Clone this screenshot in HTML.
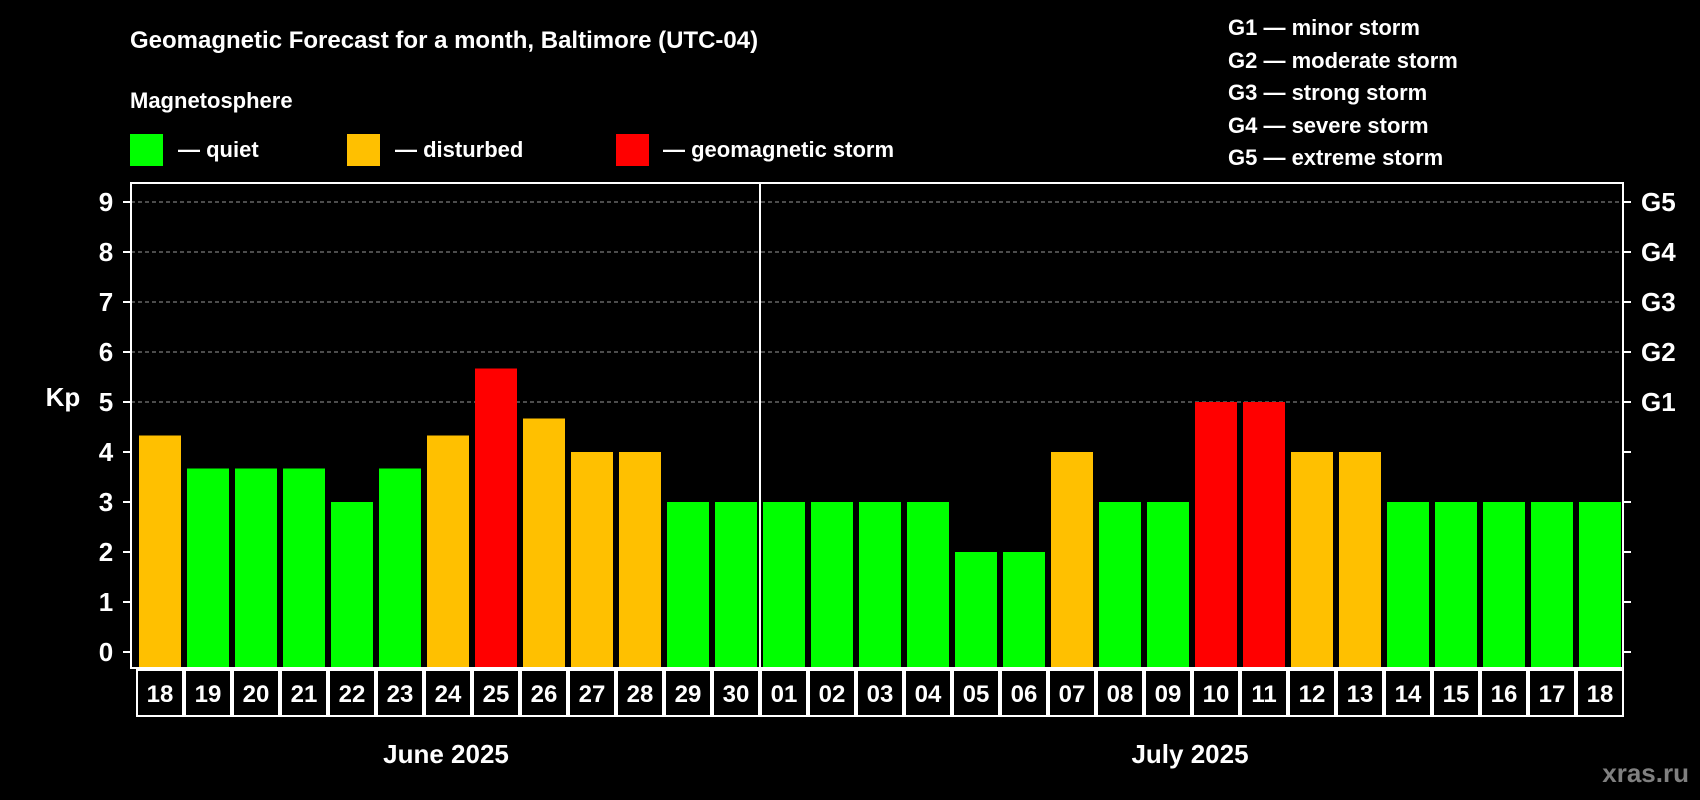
<!DOCTYPE html>
<html><head><meta charset="utf-8"><style>
html,body{margin:0;padding:0;background:#000;}
svg{display:block;font-family:"Liberation Sans",Arial,sans-serif;font-weight:bold;}
</style></head><body>
<svg id="c" width="1700" height="800" viewBox="0 0 1700 800">
<rect width="1700" height="800" fill="#000"/>
<text x="130" y="48" fill="#fff" font-size="24">Geomagnetic Forecast for a month, Baltimore (UTC-04)</text>
<text x="130" y="108" fill="#fff" font-size="22">Magnetosphere</text>
<g><rect x="130" y="134" width="33" height="32" fill="#00ff00"/><text x="178" y="157" fill="#fff" font-size="22">— quiet</text></g>
<g><rect x="347" y="134" width="33" height="32" fill="#ffc000"/><text x="395" y="157" fill="#fff" font-size="22">— disturbed</text></g>
<g><rect x="616" y="134" width="33" height="32" fill="#ff0000"/><text x="663" y="157" fill="#fff" font-size="22">— geomagnetic storm</text></g>
<g fill="#fff" font-size="22">
<text x="1228" y="35">G1 — minor storm</text>
<text x="1228" y="68">G2 — moderate storm</text>
<text x="1228" y="100">G3 — strong storm</text>
<text x="1228" y="133">G4 — severe storm</text>
<text x="1228" y="165">G5 — extreme storm</text>
</g>
<text x="63" y="406" fill="#fff" font-size="26" text-anchor="middle">Kp</text>
<g id="grid"></g>
<g id="bars"></g>
<rect x="131" y="183" width="1492" height="485" fill="none" stroke="#fff" stroke-width="2"/>
<g id="axes"></g>
<g id="xlabels"></g>
<text x="446" y="763" fill="#fff" font-size="26" text-anchor="middle">June 2025</text>
<text x="1190" y="763" fill="#fff" font-size="26" text-anchor="middle">July 2025</text>
<text x="1689" y="782" fill="#808080" font-size="26" text-anchor="end">xras.ru</text>
</svg>
<script>
const days = ["18","19","20","21","22","23","24","25","26","27","28","29","30","01","02","03","04","05","06","07","08","09","10","11","12","13","14","15","16","17","18"];
const kpValues = [4.33,3.67,3.67,3.67,3,3.67,4.33,5.67,4.67,4,4,3,3,3,3,3,3,2,2,4,3,3,5,5,4,4,3,3,3,3,3];
const yTicks = [0,1,2,3,4,5,6,7,8,9];
const gLabels = ["G1","G2","G3","G4","G5"];
const gLevels = [5,6,7,8,9];
const monthSplit = 13;
const NS="http://www.w3.org/2000/svg";
const y0=652, unit=50, x0=139, pitch=48, bw=42;
const yS=v=>y0-v*unit, xS=i=>x0+i*pitch;
function mk(t,a,p){const e=document.createElementNS(NS,t);for(const k in a)e.setAttribute(k,a[k]);p.appendChild(e);return e;}
const grid=document.getElementById('grid'),bars=document.getElementById('bars'),axes=document.getElementById('axes'),xl=document.getElementById('xlabels');
gLevels.forEach(v=>{const l=mk('line',{x1:131,x2:1623,y1:yS(v),y2:yS(v),stroke:'#999','stroke-dasharray':'4,3','stroke-width':1},grid);

});
kpValues.forEach((v,i)=>{const col=v>=5?'#ff0000':(v>=4?'#ffc000':'#00ff00');
const r=mk('rect',{x:xS(i),y:yS(v),width:bw,height:668-yS(v),fill:col},bars);

});
const sep=mk('line',{x1:xS(monthSplit)-3,x2:xS(monthSplit)-3,y1:183,y2:716,stroke:'#fff','stroke-width':2},axes);


yTicks.forEach(v=>{mk('line',{x1:123,x2:131,y1:yS(v),y2:yS(v),stroke:'#fff','stroke-width':2},axes);
mk('line',{x1:1623,x2:1631,y1:yS(v),y2:yS(v),stroke:'#fff','stroke-width':2},axes);
const t=mk('text',{x:106,y:yS(v)+9,fill:'#fff','font-size':26,'text-anchor':'middle'},axes);t.textContent=v;

});
gLabels.forEach((g,i)=>{const t=mk('text',{x:1641,y:yS(gLevels[i])+9,fill:'#fff','font-size':26},axes);t.textContent=g;

});
days.forEach((d,i)=>{const bx=xS(i)-3;
const r=mk('rect',{x:bx+1,y:670,width:pitch-2,height:46,fill:'none',stroke:'#fff','stroke-width':2},xl);


const t=mk('text',{x:bx+pitch/2,y:702,fill:'#fff','font-size':24,'text-anchor':'middle'},xl);t.textContent=d;

});
</script>
</body></html>
